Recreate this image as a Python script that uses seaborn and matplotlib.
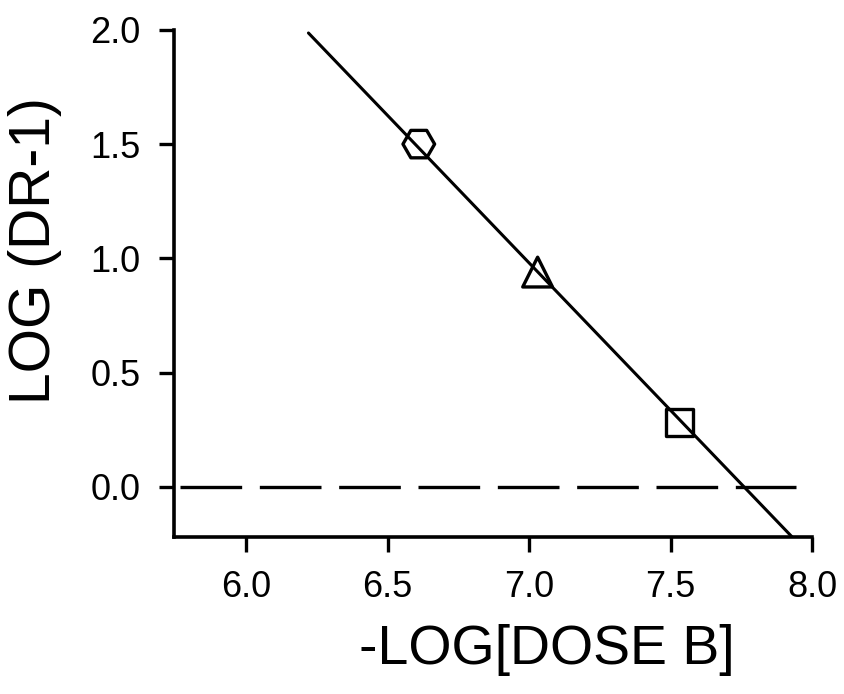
import numpy as np
import pandas as pd
import matplotlib
matplotlib.use("Agg")
import matplotlib.pyplot as plt
import seaborn as sns

# -- data --
dose = [6.61, 7.03, 7.53]          # -log[dose B]
log_dr = [1.50, 0.94, 0.28]        # log(DR-1)
marker_kind = ["hex", "tri", "sq"]

fit_slope = -1.29
fit_intercept = 10.01
fit_x = [6.22, 7.94]

x_ticks = [6.0, 6.5, 7.0, 7.5, 8.0]
y_ticks = [0.0, 0.5, 1.0, 1.5, 2.0]

sns.set_theme(style="ticks")
plt.rcParams["font.family"] = ["Liberation Sans", "DejaVu Sans"]
plt.rcParams["text.color"] = "black"
plt.rcParams["axes.labelcolor"] = "black"

fig = plt.figure(figsize=(8.45, 6.94), dpi=100)
ax = fig.add_axes([0.206, 0.226, 0.755, 0.731])

df_fit = pd.DataFrame({"x": fit_x})
df_fit["y"] = fit_intercept + fit_slope * df_fit["x"]
sns.lineplot(data=df_fit, x="x", y="y", color="black", linewidth=2.2, ax=ax)

ax.axhline(0, color="black", linewidth=2.4, dashes=(18.5, 5.3),
           xmin=0.01, xmax=0.975)

df = pd.DataFrame({"x": dose, "y": log_dr, "kind": marker_kind})
sizes = {"hex": 520, "tri": 460, "sq": 380}
for kind, mk in [("hex", "H"), ("tri", "^"), ("sq", "s")]:
    sub = df[df["kind"] == kind]
    sns.scatterplot(data=sub, x="x", y="y", marker=mk, s=sizes[kind],
                    facecolor="none", edgecolor="black", linewidths=2.4,
                    legend=False, ax=ax, zorder=3)

ax.set_xlim(5.745, 8.0)
ax.set_ylim(-0.22, 2.0)
ax.set_xticks(x_ticks)
ax.set_yticks(y_ticks)
ax.set_xticklabels([f"{v:.1f}" for v in x_ticks])
ax.set_yticklabels([f"{v:.1f}" for v in y_ticks])
ax.tick_params(direction="out", length=11, width=2.4, pad=13,
               labelsize=26, colors="black")

sns.despine(ax=ax)
for side in ["left", "bottom"]:
    ax.spines[side].set_linewidth(2.6)
    ax.spines[side].set_color("black")

ax.set_xlabel("-LOG[DOSE B]", fontsize=40)
ax.set_ylabel("LOG (DR-1)", fontsize=41)
ax.xaxis.set_label_coords(0.584, -0.172)
ax.yaxis.set_label_coords(-0.176, 0.564)

plt.savefig("out.png", dpi=100)
